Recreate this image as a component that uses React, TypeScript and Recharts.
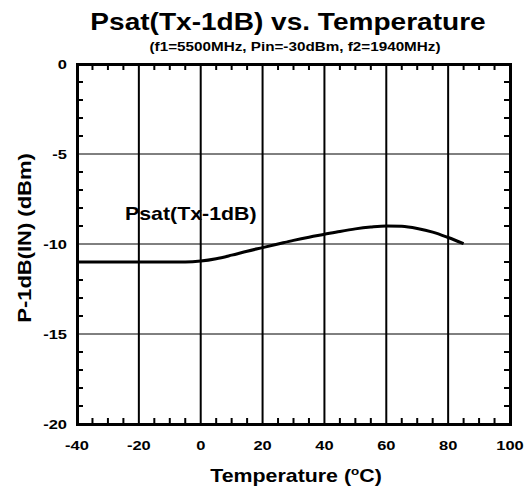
import React from 'react';
import { LineChart, Line, XAxis, YAxis, ReferenceLine } from 'recharts';

// temperature (°C) and Psat(Tx-1dB)
const temps = [-40, -30, -20, -10, -5, 0, 5, 10, 15, 20, 25, 30, 35, 40, 45, 50, 55, 60, 65, 70, 75, 80, 85];
const psat = [-11, -11, -11, -11, -11, -10.95, -10.82, -10.62, -10.4, -10.2, -10.0, -9.8, -9.62, -9.46, -9.3, -9.16, -9.06, -9.0, -9.02, -9.14, -9.34, -9.64, -9.98];

const xTicks = [-40, -20, 0, 20, 40, 60, 80, 100];
const yTicks = [-20, -15, -10, -5, 0];
const xMinor = [-35, -30, -25, -15, -10, -5, 5, 10, 15, 25, 30, 35, 45, 50, 55, 65, 70, 75, 85, 90, 95];
const yMinor = [-19, -18, -17, -16, -14, -13, -12, -11, -9, -8, -7, -6, -4, -3, -2, -1];
const xGrid = [-20, 0, 20, 40, 60, 80];
const yGrid = [-15, -10, -5];

const data = temps.map((t, i) => ({ t, v: psat[i] }));

const W = 529;
const H = 488;
const TOP = 64;
const LEFT = 77;
const RIGHT = 510;
const BOTTOM = 424;
const X0 = -40, X1 = 100, Y0 = -20, Y1 = 0;
// inward tick length (6px) expressed in axis units
const TX = 6 * (X1 - X0) / (RIGHT - LEFT);
const TY = 6 * (Y1 - Y0) / (BOTTOM - TOP);
const SX = 1.22; // the reference font is wider than Arial
const FONT = '"Liberation Sans", Arial, sans-serif';

function SText({ x, y, size, anchor = 'middle', rotate = 0, children }: any) {
  return (
    <text
      transform={`translate(${x},${y}) rotate(${rotate}) scale(${SX},1)`}
      textAnchor={anchor}
      fontSize={size}
      fontWeight="bold"
      fontFamily={FONT}
      fill="#000"
      stroke="none"
    >
      {children}
    </text>
  );
}

const XTick = (props: any) => <SText x={props.x} y={BOTTOM + 26} size={13.5}>{props.payload.value}</SText>;
const YTick = (props: any) => <SText x={67} y={props.y + 5} size={13.5} anchor="end">{props.payload.value}</SText>;

export default function App() {
  return (
    <div style={{ position: 'absolute', left: 0, top: 0, width: W, height: H, background: '#fff' }}>
      <LineChart width={W} height={H} data={data} margin={{ top: TOP, right: W - RIGHT, bottom: 0, left: 0 }}>
        <XAxis
          dataKey="t"
          type="number"
          domain={[X0, X1]}
          ticks={xTicks}
          interval={0}
          height={H - BOTTOM}
          axisLine={false}
          tickLine={false}
          tick={XTick}
        />
        <YAxis
          type="number"
          domain={[Y0, Y1]}
          ticks={yTicks}
          interval={0}
          width={LEFT}
          axisLine={false}
          tickLine={false}
          tick={YTick}
        />
        {xGrid.map((g) => (
          <ReferenceLine key={`gx${g}`} x={g} stroke="#000" strokeWidth={2} />
        ))}
        {yGrid.map((g) => (
          <ReferenceLine key={`gy${g}`} y={g} stroke="#000" strokeWidth={1} />
        ))}
        {/* minor ticks, pointing inward on all four sides */}
        {xMinor.map((m) => (
          <ReferenceLine key={`bx${m}`} segment={[{ x: m, y: Y0 }, { x: m, y: Y0 + TY }]} stroke="#000" strokeWidth={2} ifOverflow="visible" />
        ))}
        {xMinor.map((m) => (
          <ReferenceLine key={`tx${m}`} segment={[{ x: m, y: Y1 }, { x: m, y: Y1 - TY }]} stroke="#000" strokeWidth={2} ifOverflow="visible" />
        ))}
        {yMinor.map((m) => (
          <ReferenceLine key={`ly${m}`} segment={[{ x: X0, y: m }, { x: X0 + TX, y: m }]} stroke="#000" strokeWidth={2} ifOverflow="visible" />
        ))}
        {yMinor.map((m) => (
          <ReferenceLine key={`ry${m}`} segment={[{ x: X1, y: m }, { x: X1 - TX, y: m }]} stroke="#000" strokeWidth={2} ifOverflow="visible" />
        ))}
        <Line
          type="monotone"
          dataKey="v"
          stroke="#000"
          strokeWidth={3}
          dot={false}
          isAnimationActive={false}
        />
      </LineChart>

      {/* plot frame as a CSS border over the chart */}
      <div
        style={{
          position: 'absolute',
          left: LEFT - 1.5,
          top: TOP - 1.5,
          width: RIGHT - LEFT - 3,
          height: BOTTOM - TOP - 3,
          border: '3px solid #000',
          zIndex: 6,
          pointerEvents: 'none',
        }}
      />

      {/* titles and labels */}
      <svg width={W} height={H} style={{ position: 'absolute', left: 0, top: 0, zIndex: 5, pointerEvents: 'none' }}>
        <SText x={288} y={30} size={23}>Psat(Tx-1dB) vs. Temperature</SText>
        <SText x={295} y={51} size={12.5}>(f1=5500MHz, Pin=-30dBm, f2=1940MHz)</SText>
        <SText x={296} y={482} size={17.5}>
          Temperature (<tspan fontSize={11} dy={-7}>o</tspan><tspan dy={7}>C)</tspan>
        </SText>
        <SText x={31} y={238} size={18} rotate={-90}>P-1dB(IN) (dBm)</SText>
        <SText x={125} y={220} size={17.5} anchor="start">Psat(Tx-1dB)</SText>
      </svg>
    </div>
  );
}
